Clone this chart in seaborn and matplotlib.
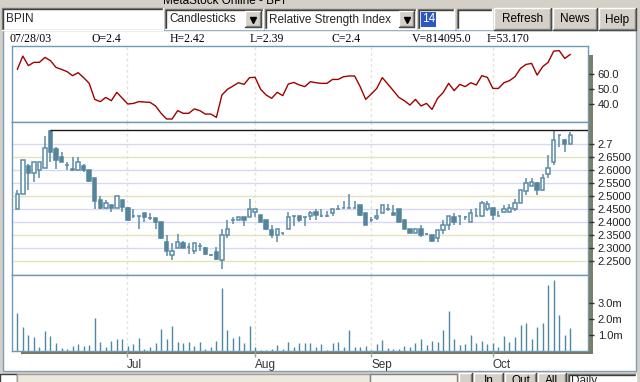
import numpy as np
import seaborn as sns
import matplotlib.pyplot as plt
from matplotlib.patches import Rectangle

sns.set_theme(style="white")
plt.rcParams["font.family"] = ["Liberation Sans", "DejaVu Sans"]

# ---- data (BPIN, daily) ----
opens = [2.45, 2.51, 2.615, 2.59, 2.60, 2.61, 2.75, 2.68, 2.65, 2.62,
         2.605, 2.60, 2.615, 2.60, 2.57, 2.485, 2.455, 2.465, 2.455, 2.485,
         2.455, 2.425, 2.425, 2.435, 2.415, 2.415, 2.40, 2.325, 2.275, 2.30,
         2.32, 2.305, 2.29, 2.31, 2.30, 2.275, 2.285, 2.255, 2.35, 2.41,
         2.41, 2.42, 2.42, 2.44, 2.43, 2.41, 2.37, 2.35, 2.36, 2.375,
         2.425, 2.425, 2.42, 2.425, 2.44, 2.425, 2.425, 2.435, 2.45, 2.455,
         2.455, 2.455, 2.465, 2.435, 2.41, 2.415, 2.435, 2.45, 2.435, 2.45,
         2.41, 2.375, 2.36, 2.375, 2.355, 2.35, 2.34, 2.37, 2.39, 2.42,
         2.425, 2.42, 2.40, 2.425, 2.425, 2.45, 2.455, 2.425, 2.44, 2.44,
         2.45, 2.475, 2.52, 2.54, 2.55, 2.525, 2.585, 2.63, 2.735, 2.715,
         2.70]
highs = [2.525, 2.64, 2.625, 2.63, 2.63, 2.73, 2.755, 2.69, 2.67, 2.63,
         2.65, 2.65, 2.625, 2.60, 2.57, 2.50, 2.485, 2.465, 2.50, 2.485,
         2.46, 2.45, 2.425, 2.435, 2.435, 2.415, 2.40, 2.35, 2.32, 2.355,
         2.33, 2.32, 2.32, 2.32, 2.305, 2.28, 2.305, 2.375, 2.41, 2.42,
         2.42, 2.42, 2.49, 2.45, 2.43, 2.41, 2.39, 2.375, 2.36, 2.44,
         2.425, 2.425, 2.42, 2.445, 2.45, 2.45, 2.445, 2.45, 2.465, 2.48,
         2.51, 2.48, 2.465, 2.435, 2.42, 2.45, 2.465, 2.47, 2.465, 2.45,
         2.41, 2.375, 2.375, 2.39, 2.36, 2.35, 2.37, 2.41, 2.425, 2.435,
         2.425, 2.425, 2.45, 2.455, 2.48, 2.48, 2.455, 2.445, 2.465, 2.47,
         2.49, 2.525, 2.57, 2.57, 2.555, 2.585, 2.66, 2.755, 2.735, 2.72,
         2.745]
lows = [2.45, 2.51, 2.525, 2.555, 2.57, 2.61, 2.63, 2.605, 2.63, 2.60,
        2.60, 2.60, 2.595, 2.555, 2.45, 2.45, 2.45, 2.44, 2.455, 2.44,
        2.405, 2.415, 2.375, 2.40, 2.41, 2.375, 2.335, 2.27, 2.255, 2.30,
        2.30, 2.28, 2.28, 2.29, 2.275, 2.27, 2.255, 2.22, 2.34, 2.395,
        2.41, 2.385, 2.42, 2.42, 2.40, 2.37, 2.34, 2.325, 2.35, 2.375,
        2.385, 2.40, 2.385, 2.41, 2.41, 2.42, 2.42, 2.425, 2.45, 2.455,
        2.455, 2.455, 2.425, 2.39, 2.40, 2.41, 2.435, 2.445, 2.43, 2.40,
        2.375, 2.36, 2.36, 2.345, 2.35, 2.325, 2.325, 2.355, 2.37, 2.39,
        2.39, 2.41, 2.40, 2.425, 2.42, 2.445, 2.41, 2.425, 2.44, 2.44,
        2.445, 2.475, 2.505, 2.54, 2.505, 2.52, 2.57, 2.62, 2.69, 2.67,
        2.70]
closes = [2.51, 2.64, 2.59, 2.63, 2.63, 2.685, 2.67, 2.64, 2.63, 2.62,
          2.60, 2.63, 2.60, 2.56, 2.48, 2.455, 2.475, 2.455, 2.50, 2.46,
          2.41, 2.425, 2.425, 2.42, 2.415, 2.40, 2.34, 2.29, 2.29, 2.325,
          2.30, 2.305, 2.32, 2.31, 2.28, 2.275, 2.26, 2.35, 2.375, 2.41,
          2.42, 2.41, 2.45, 2.45, 2.40, 2.375, 2.35, 2.375, 2.36, 2.42,
          2.425, 2.41, 2.42, 2.435, 2.43, 2.425, 2.425, 2.45, 2.45, 2.455,
          2.455, 2.455, 2.43, 2.39, 2.41, 2.425, 2.465, 2.45, 2.43, 2.40,
          2.375, 2.36, 2.375, 2.35, 2.355, 2.33, 2.37, 2.39, 2.425, 2.40,
          2.425, 2.42, 2.435, 2.425, 2.475, 2.47, 2.43, 2.425, 2.45, 2.455,
          2.475, 2.525, 2.55, 2.555, 2.525, 2.57, 2.61, 2.715, 2.735, 2.70,
          2.735]
rsi = [63.3, 72.2, 65.8, 68.0, 68.0, 71.3, 69.1, 64.6, 63.3, 61.8,
       59.1, 61.1, 57.8, 54.0, 43.3, 41.8, 44.6, 42.4, 48.0, 44.0,
       40.2, 40.6, 41.8, 41.5, 41.3, 38.9, 34.0, 30.2, 30.2, 35.8,
       34.0, 34.0, 36.9, 35.8, 33.5, 33.5, 31.3, 46.2, 50.0, 52.2,
       54.4, 53.3, 57.8, 58.0, 50.0, 46.2, 44.0, 48.0, 45.8, 53.5,
       54.6, 52.9, 51.8, 55.1, 54.4, 54.0, 54.0, 56.6, 56.6, 58.4,
       58.9, 58.9, 51.8, 43.3, 46.9, 50.6, 57.8, 53.5, 49.1, 44.6,
       42.4, 39.5, 43.3, 38.9, 40.6, 36.6, 44.0, 47.8, 54.0, 49.1,
       53.3, 51.8, 54.4, 52.9, 59.1, 58.0, 50.6, 50.6, 54.4, 55.8,
       58.4, 64.0, 66.6, 67.3, 59.5, 65.1, 68.0, 75.5, 75.8, 70.6,
       73.3]
volume_m = [2.37, 1.50, 0.99, 0.88, 0.27, 1.23, 0.95, 0.51, 0.21, 0.12,
            0.33, 0.43, 0.33, 0.37, 2.06, 0.58, 0.27, 0.64, 0.74, 0.74,
            0.31, 0.43, 0.82, 0.12, 0.27, 0.51, 1.36, 0.74, 1.54, 0.58,
            0.53, 0.58, 0.33, 0.58, 0.12, 0.27, 0.64, 3.91, 1.30, 0.82,
            0.93, 0.51, 1.56, 0.27, 0.06, 0.06, 0.12, 0.37, 0.12, 0.58,
            0.27, 0.51, 0.47, 0.51, 0.27, 0.43, 0.06, 0.51, 0.58, 0.27,
            1.30, 0.23, 0.23, 0.31, 0.06, 0.43, 0.68, 0.16, 0.12, 0.12,
            0.31, 0.23, 0.53, 0.74, 0.37, 0.62, 0.58, 1.30, 2.53, 0.78,
            0.37, 0.43, 0.99, 0.51, 0.62, 0.43, 0.51, 0.23, 0.93, 0.58,
            0.88, 1.60, 1.77, 0.78, 1.50, 1.77, 4.14, 4.44, 2.22, 0.99,
            1.44]

month_pos = [19.8, 43.0, 64.0, 86.0]
month_labels = ["Jul", "Aug", "Sep", "Oct"]
price_ticks = [2.25, 2.30, 2.35, 2.40, 2.45, 2.50, 2.55, 2.60, 2.65, 2.70]
price_labels = ["2.2500", "2.3000", "2.3500", "2.4000", "2.4500",
                "2.5000", "2.5500", "2.6000", "2.6500", "2.7"]
rsi_ticks = [40, 50, 60]
rsi_labels = ["40.0", "50.0", "60.0"]
vol_ticks = [1, 2, 3]
vol_labels = ["1.0m", "2.0m", "3.0m"]
info = [("07/28/03", 10), ("O=2.4", 91), ("H=2.42", 170), ("L=2.39", 250),
        ("C=2.4", 331), ("V=814095.0", 412), ("I=53.170", 487)]

# ---- figure + window chrome ----
W, H = 640, 382
GRAY = "#d4d0c8"
fig = plt.figure(figsize=(W / 100, H / 100), dpi=100, facecolor=GRAY)
ui = fig.add_axes([0, 0, 1, 1])
ui.set_xlim(0, W)
ui.set_ylim(H, 0)
ui.axis("off")


def rect(x0, y0, x1, y1, fc, ec="none", lw=1.0):
    ui.add_patch(Rectangle((x0, y0), x1 - x0, y1 - y0, facecolor=fc,
                           edgecolor=ec, lw=lw))


def sunken(x0, y0, x1, y1, fc="white"):
    rect(x0, y0, x1, y1, fc)
    ui.plot([x0, x0, x1], [y1, y0, y0], color="#808080", lw=1)
    ui.plot([x0 + 1, x0 + 1, x1 - 1], [y1 - 1, y0 + 1, y0 + 1], color="#404040", lw=1)
    ui.plot([x0, x1, x1], [y1, y1, y0], color="#ffffff", lw=1)


def raised(x0, y0, x1, y1, label=None, ty=None):
    rect(x0, y0, x1, y1, GRAY)
    ui.plot([x0, x0, x1], [y1, y0, y0], color="#ffffff", lw=1)
    ui.plot([x0, x1, x1], [y1, y1, y0], color="#404040", lw=1)
    ui.plot([x0 + 1, x1 - 1, x1 - 1], [y1 - 1, y1 - 1, y0 + 1], color="#808080", lw=1)
    if label:
        ui.text((x0 + x1) / 2, ty if ty else (y0 + y1) / 2 + 0.5, label,
                ha="center", va="center", fontsize=8.5, color="black")


# window title, cut by the top edge as on the screen
ui.text(163, 4.2, "MetaStock Online - BPI", fontsize=8.5, va="baseline", color="black")

sunken(2, 8, 163, 30)
ui.text(6, 19, "BPIN", fontsize=8.5, va="center")

sunken(165, 9, 263, 29)
ui.text(169, 19.5, "Candlesticks", fontsize=8.5, va="center")
raised(245, 11, 261, 27)
ui.plot([253], [19.5], marker="v", ms=4, color="black")

sunken(265, 9, 416, 29)
ui.text(269, 19.5, "Relative Strength Index", fontsize=8.5, va="center")
raised(399, 11, 414, 27)
ui.plot([406.5], [19.5], marker="v", ms=4, color="black")

sunken(418, 9, 454, 29)
rect(421, 12, 436, 27, "#2a56c6")
ui.text(422, 19.5, "14", fontsize=8.5, va="center", color="white")
sunken(457, 9, 492, 29)

raised(494, 8, 551, 30, "Refresh")
raised(553, 8, 597, 30, "News")
raised(599, 8, 636, 30, "Help")

# chart area background
rect(3, 30, 636, 371, "white", ec="#7f9db9")
for text, x in info:
    ui.text(x, 39, text, fontsize=8.5, va="center", color="black",
            family=["Liberation Serif", "DejaVu Serif"])

# bottom toolbar, mostly cut off by the bottom edge
rect(0, 374, 17, 383, "white", ec="#404040")
rect(17, 374, 370, 383, "#ebe9dc", ec="#a0a0a0")
rect(370, 374, 457, 383, "#f5f4ee", ec="#808080")
raised(459, 373, 472, 385)
raised(474, 373, 503, 385, "In", ty=381)
raised(505, 373, 536, 385, "Out", ty=381)
raised(538, 373, 566, 385, "All", ty=381)
sunken(568, 374, 636, 385)
ui.text(571, 381, "Daily", fontsize=8.5, va="center")

# thick olive scale bars at right and bottom of the plot
rect(588.5, 55, 592.5, 353.5, "#7b7e68")
rect(21, 351, 592.5, 353.5, "#73775e")


def fbox(x0, y0, x1, y1):
    return [x0 / W, 1 - y1 / H, (x1 - x0) / W, (y1 - y0) / H]


ax_rsi = fig.add_axes(fbox(11.5, 46, 588, 122))
ax_px = fig.add_axes(fbox(11.5, 122, 588, 275))
ax_vol = fig.add_axes(fbox(11.5, 275, 588, 351))

idx = np.arange(len(opens))
o, h, l, c = (np.array(a) for a in (opens, highs, lows, closes))
up = c >= o
FRAME = "#6f9ab3"
CANDLE = "#5b8ca8"

for ax in (ax_rsi, ax_px, ax_vol):
    ax.set_facecolor("white")
    ax.set_xlim(-1.05, 103.2)
    for s in ax.spines.values():
        s.set_color(FRAME)
        s.set_linewidth(1)
    ax.yaxis.tick_right()
    ax.tick_params(axis="y", length=4, width=1, color="#333333", pad=3,
                   labelsize=8, labelcolor="#222222", right=True, left=False)
    for m in month_pos:
        ax.axvline(m, color="#e2e2d6", lw=1, ls=(0, (2, 2)), zorder=0)
    ax.set_xticks([])

# RSI
sns.lineplot(x=idx, y=rsi, ax=ax_rsi, color="#a00000", lw=1)
ax_rsi.set_ylim(28.2, 78.9)
ax_rsi.set_yticks(rsi_ticks)
ax_rsi.set_yticklabels(rsi_labels)
ax_rsi.set_xlabel("")
ax_rsi.set_ylabel("")

# price candlesticks
ax_px.set_ylim(2.198, 2.785)
for t in price_ticks:
    khaki = round(t, 2) in (2.65, 2.50, 2.35, 2.25)
    ax_px.axhline(t, color="#e4e4bc" if khaki else "#d8d8f6", lw=1, zorder=0)
ax_px.vlines(idx, l, h, color=CANDLE, lw=1.1, zorder=2)
ax_px.bar(idx[up], (c - o)[up], bottom=o[up], width=0.62, facecolor="white",
          edgecolor=CANDLE, lw=1.1, zorder=3)
ax_px.bar(idx[~up], (c - o)[~up], bottom=o[~up], width=0.62, facecolor="#55849d",
          edgecolor="#55849d", lw=1.1, zorder=3)
top = int(np.argmax(h))
ax_px.hlines(h[top], top, 103.2, color="#1a1a1a", lw=1, zorder=4)
ax_px.set_yticks(price_ticks)
ax_px.set_yticklabels(price_labels)

# volume
ax_vol.vlines(idx, 0, volume_m, color="#4d89a3", lw=1)
ax_vol.set_ylim(0, 4.75)
ax_vol.set_yticks(vol_ticks)
ax_vol.set_yticklabels(vol_labels)
ax_vol.set_xticks(month_pos)
ax_vol.set_xticklabels(month_labels, ha="left")
ax_vol.tick_params(axis="x", bottom=True, length=4.5, width=1, color="#8fa5b5",
                   pad=1.5, labelsize=8.5, labelcolor="#333333")

fig.savefig("out.png", dpi=100, facecolor=fig.get_facecolor())
